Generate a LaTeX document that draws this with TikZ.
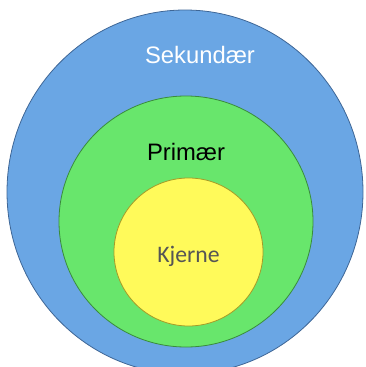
\documentclass[tikz,border=0pt]{standalone}
\usepackage{fontspec}
\setmainfont{Liberation Sans}
\newfontfamily\kjernefont{Carlito}
\usepackage{tikz}
\usetikzlibrary{shapes.geometric}
\definecolor{skyblue}{RGB}{106, 166, 228}
\definecolor{skyedge}{RGB}{62, 102, 150}
\definecolor{lgreen}{RGB}{104, 230, 108}
\definecolor{greenedge}{RGB}{58, 140, 60}
\definecolor{lyellow}{RGB}{255, 250, 90}
\definecolor{yellowedge}{RGB}{165, 155, 40}
\definecolor{dgray}{RGB}{85, 85, 85}

\begin{document}
\begin{tikzpicture}[x = 1pt, y = -1pt]
			\useasboundingbox (0,0) rectangle (365,367);
			\node (sek) at (185,192) [ellipse, inner sep = 0pt, minimum width = 356pt, minimum height = 364pt, fill = skyblue, draw = skyedge, line width = 0.8pt] {};
			\node (prim) at (186,221.5) [ellipse, inner sep = 0pt, minimum width = 254pt, minimum height = 251pt, fill = lgreen, draw = greenedge, line width = 0.8pt] {};
			\node (kjerne) at (188.5,252) [ellipse, inner sep = 0pt, minimum width = 149pt, minimum height = 148pt, fill = lyellow, draw = yellowedge, line width = 0.8pt] {};
			\node (seklabel) at (200,63.3) [anchor = base, text = white, font = \fontsize{23.8}{26}\selectfont] {Sekundær};
			\node (primlabel) at (186,160) [anchor = base, text = black, font = \fontsize{23.8}{26}\selectfont] {Primær};
			\node (kjernelabel) at (188.5,262.3) [anchor = base, text = dgray, font = \kjernefont\fontsize{23.7}{26}\selectfont] {Kjerne};
			\end{tikzpicture}
\end{document}
